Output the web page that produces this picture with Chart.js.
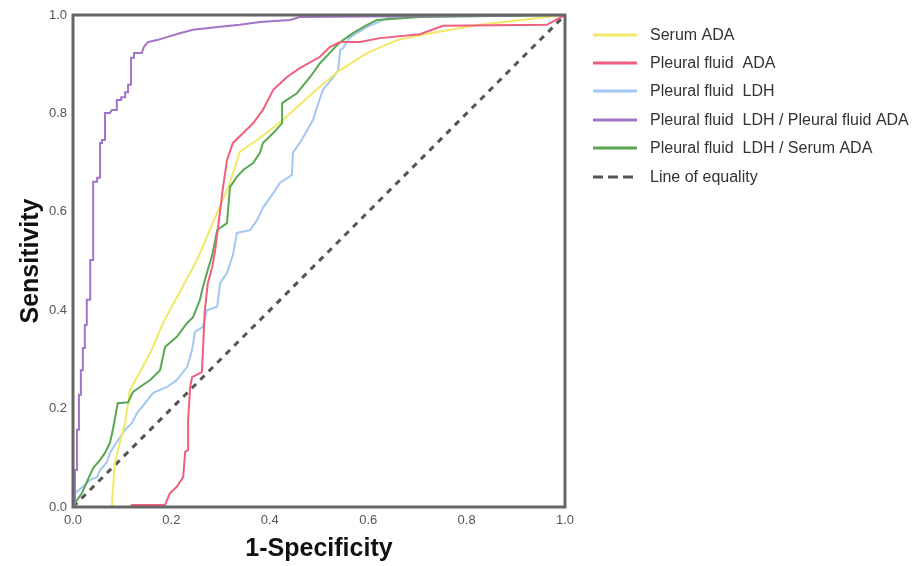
<!DOCTYPE html>
<html>
<head>
<meta charset="utf-8">
<style>
  html, body { margin: 0; padding: 0; background: #ffffff; }
  canvas { display: block; }
</style>
<script src="https://cdn.jsdelivr.net/npm/chart.js@4.4.1/dist/chart.umd.min.js"></script>
</head>
<body>
<canvas id="c" width="917" height="566"></canvas>
<script>
// ---- Data (x = 1-Specificity, y = Sensitivity) ----
const seriesLabels = [
  'Serum ADA',
  'Pleural fluid  ADA',
  'Pleural fluid  LDH',
  'Pleural fluid  LDH / Pleural fluid ADA',
  'Pleural fluid  LDH / Serum ADA',
  'Line of equality'
];

const serumADA = [
  [0,0],[.079,0],[.081,.035],[.085,.089],[.093,.122],[.106,.171],[.116,.238],
  [.157,.313],[.183,.374],[.217,.437],[.252,.502],[.293,.598],[.319,.659],
  [.339,.722],[.380,.750],[.427,.787],[.482,.837],[.537,.884],[.598,.923],
  [.659,.949],[.726,.963],[.827,.980],[1,1]
];

const pleuralADA = [
  [0,0],[.116,0],[.120,.004],[.187,.004],[.191,.014],[.197,.028],[.211,.041],
  [.224,.061],[.228,.112],[.234,.116],[.234,.177],[.238,.242],[.242,.264],
  [.262,.274],[.268,.400],[.274,.455],[.283,.488],[.289,.522],[.305,.650],
  [.313,.705],[.325,.740],[.346,.760],[.366,.780],[.386,.807],[.407,.848],
  [.435,.874],[.461,.892],[.502,.915],[.522,.935],[.543,.945],[.583,.945],
  [.624,.953],[.705,.961],[.752,.978],[.963,.980],[1,1]
];

const pleuralLDH = [
  [0,0],[.004,.028],[.020,.041],[.035,.055],[.049,.061],[.055,.075],[.069,.091],
  [.075,.110],[.085,.126],[.096,.142],[.106,.157],[.120,.171],[.130,.191],
  [.140,.203],[.163,.232],[.191,.244],[.211,.258],[.232,.285],[.242,.319],
  [.248,.356],[.264,.366],[.272,.400],[.293,.407],[.299,.455],[.313,.476],
  [.325,.512],[.333,.557],[.360,.563],[.374,.583],[.386,.608],[.407,.638],
  [.421,.659],[.445,.675],[.447,.720],[.461,.740],[.476,.766],[.488,.787],
  [.496,.813],[.508,.848],[.528,.872],[.539,.888],[.543,.929],[.549,.933],
  [.563,.955],[.598,.976],[.644,.996],[1,1]
];

const ldhOverPleuralADA = [
  [0,0],[.004,0],[.004,.075],[.008,.075],[.008,.157],[.012,.157],[.012,.228],
  [.016,.228],[.016,.278],[.020,.278],[.020,.323],[.024,.323],[.024,.370],
  [.028,.370],[.028,.421],[.035,.421],[.035,.502],[.041,.502],[.041,.661],
  [.049,.661],[.049,.669],[.055,.669],[.055,.740],[.059,.740],[.059,.746],
  [.065,.746],[.065,.801],[.075,.801],[.079,.807],[.089,.807],[.089,.827],
  [.098,.827],[.098,.833],[.106,.833],[.106,.843],[.112,.843],[.112,.858],
  [.118,.858],[.118,.913],[.124,.913],[.124,.923],[.140,.923],[.144,.935],
  [.152,.945],[.171,.949],[.191,.955],[.217,.963],[.244,.970],[.299,.976],
  [.339,.980],[.380,.986],[.441,.990],[.461,.996],[1,1]
];

const ldhOverSerumADA = [
  [0,0],[.008,.014],[.018,.028],[.030,.055],[.041,.079],[.055,.096],[.065,.110],
  [.075,.130],[.081,.157],[.091,.211],[.112,.213],[.122,.234],[.136,.244],
  [.157,.258],[.177,.278],[.187,.325],[.211,.346],[.232,.374],[.244,.386],
  [.258,.421],[.264,.447],[.274,.482],[.283,.512],[.293,.563],[.313,.577],
  [.319,.650],[.333,.671],[.346,.685],[.366,.699],[.380,.720],[.386,.740],
  [.407,.760],[.425,.780],[.425,.821],[.455,.841],[.482,.874],[.502,.902],
  [.522,.923],[.537,.939],[.549,.949],[.569,.963],[.598,.980],[.618,.990],
  [.705,.996],[1,1]
];

const equalityLine = [[0,0],[1,1]];

const seriesColors = ['#f3e866', '#ef5f7d', '#a3c7f0', '#a274c8', '#5aa753', '#555555'];
const tickValues = [0, 0.2, 0.4, 0.6, 0.8, 1.0];

// ---- Chart ----
Chart.defaults.font.family = '"Liberation Sans", Arial, Helvetica, sans-serif';
const toXY = arr => arr.map(p => ({x: p[0], y: p[1]}));
const allSeries = [serumADA, pleuralADA, pleuralLDH, ldhOverPleuralADA, ldhOverSerumADA, equalityLine];

const datasets = allSeries.map((s, i) => ({
  label: seriesLabels[i],
  data: toXY(s),
  showLine: true,
  borderColor: seriesColors[i],
  backgroundColor: seriesColors[i],
  borderWidth: i === 5 ? 3 : 2,
  borderDash: i === 5 ? [6, 6] : [],
  pointRadius: 0,
  tension: 0,
  fill: false,
  order: i === 5 ? 10 : [4, 2, 5, 1, 3][i]
}));

const framePlugin = {
  id: 'frame',
  afterDatasetsDraw(chart) {
    const {ctx, chartArea: a} = chart;
    ctx.save();
    ctx.strokeStyle = '#666666';
    ctx.lineWidth = 3;
    ctx.strokeRect(a.left, a.top, a.right - a.left, a.bottom - a.top);
    ctx.restore();
  }
};

const legendPlugin = {
  id: 'customLegend',
  afterDraw(chart) {
    const ctx = chart.ctx;
    const rows = [35, 63, 91, 120, 148, 177];
    ctx.save();
    chart.data.datasets.forEach((ds, i) => {
      const y = rows[i];
      ctx.beginPath();
      ctx.strokeStyle = ds.borderColor;
      ctx.lineWidth = 3;
      ctx.setLineDash(i === 5 ? [10, 5] : []);
      ctx.moveTo(593, y);
      ctx.lineTo(637, y);
      ctx.stroke();
      ctx.setLineDash([]);
      ctx.fillStyle = '#333333';
      ctx.font = '16px "Liberation Sans", Arial, sans-serif';
      ctx.textBaseline = 'middle';
      ctx.textAlign = 'left';
      ctx.fillText(ds.label, 650, y + 1);
    });
    ctx.restore();
  }
};

new Chart(document.getElementById('c'), {
  type: 'scatter',
  data: { datasets },
  options: {
    responsive: false,
    animation: false,
    layout: { padding: { left: 0, right: 352, top: 15, bottom: 0 } },
    plugins: { legend: { display: false }, tooltip: { enabled: false } },
    scales: {
      x: {
        type: 'linear', min: 0, max: 1,
        afterBuildTicks: s => { s.ticks = tickValues.map(v => ({value: v})); },
        ticks: { callback: v => Number(v).toFixed(1), color: '#555555', font: { size: 13 }, padding: 6, maxRotation: 0 },
        grid: { display: false, drawTicks: false },
        border: { display: false },
        title: { display: true, text: '1-Specificity', color: '#111111', font: { size: 25, weight: 'bold' }, padding: { top: 4, bottom: 2 } },
        afterFit: s => { s.height = 59; }
      },
      y: {
        type: 'linear', min: 0, max: 1,
        afterBuildTicks: s => { s.ticks = tickValues.map(v => ({value: v})); },
        ticks: { callback: v => Number(v).toFixed(1), color: '#555555', font: { size: 13 }, padding: 6 },
        grid: { display: false, drawTicks: false },
        border: { display: false },
        title: { display: true, text: 'Sensitivity', color: '#111111', font: { size: 25, weight: 'bold' }, padding: { top: 16, bottom: 4 } },
        afterFit: s => { s.width = 73; }
      }
    }
  },
  plugins: [framePlugin, legendPlugin]
});
</script>
</body>
</html>
